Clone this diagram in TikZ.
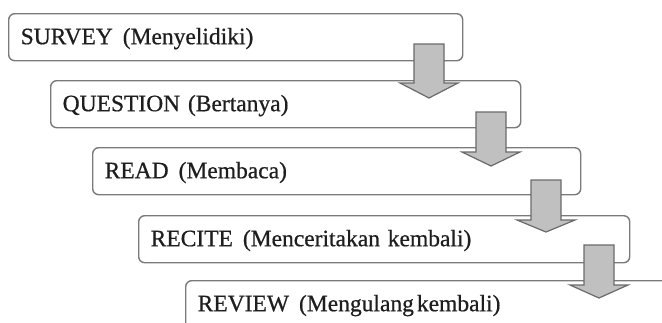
\documentclass[tikz,border=0pt]{standalone}
\usepackage{fontspec}
\setmainfont{Liberation Serif}[FakeBold=0.6]
\definecolor{boxline}{HTML}{7A7A7A}
\definecolor{arrfill}{HTML}{C0C0C0}
\definecolor{arrline}{HTML}{6A6A6A}
\definecolor{txt}{HTML}{1E1E1E}
\newcommand{\gapsp}{\hspace{10pt}}
\begin{document}
\begin{tikzpicture}[x=1pt,y=-1pt,
  stepbox/.style={draw=boxline, line width=1.4pt, rounded corners=6pt, fill=white,
    anchor=north west, inner xsep=12pt, inner ysep=0pt, text height=30.5pt, text depth=16.5pt,
    align=left, font=\fontsize{23.5}{26}\selectfont, text=txt},
  blockarrow/.style={fill=arrfill, draw=arrline, line width=1.2pt, line join=miter}]
\useasboundingbox (0,0) rectangle (662,322);
\clip (0,0) rectangle (662,322);
\node[stepbox, text width=430pt] (b1) at (8,13) {SURVEY\gapsp(Menyelidiki)};
\node[stepbox, text width=446pt] (b2) at (50,80) {QUESTION (Bertanya)};
\node[stepbox, text width=464pt] (b3) at (92,147) {READ\gapsp(Membaca)};
\node[stepbox, text width=467pt] (b4) at (138,215) {RECITE\gapsp(Menceritakan kembali)};
\node[stepbox, text width=516pt, text depth=40pt] (b5) at (185,280) {REVIEW\gapsp(Mengulang\hspace{3pt}kembali)};
% block arrows: centre x, top, head base, tip
\foreach \n/\cx/\top/\base/\tip in {1/429/44/83/98, 2/491/112/152/166, 3/546/180/220/232, 4/599/245/285/298}{
  \coordinate (a\n) at (\cx,\top);
  \draw[blockarrow] (\cx-15,\top) -- (\cx+15,\top) -- (\cx+15,\base) -- (\cx+29,\base)
     -- (\cx,\tip) -- (\cx-29,\base) -- (\cx-15,\base) -- cycle;
}
\end{tikzpicture}
\end{document}
